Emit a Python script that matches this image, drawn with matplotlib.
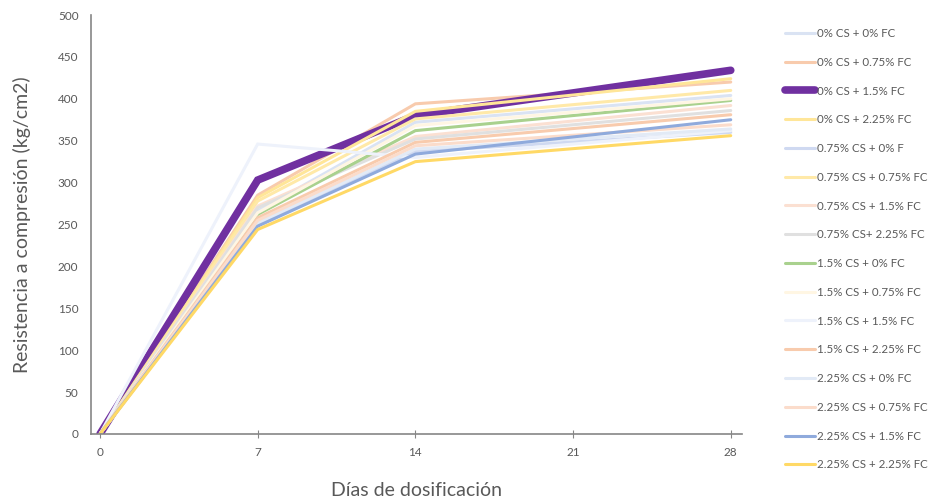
import matplotlib
matplotlib.use("Agg")
import matplotlib.pyplot as plt

plt.rcParams['font.family'] = ['Lato', 'DejaVu Sans']

days = [0, 7, 14, 28]
x_ticks = [0, 7, 14, 21, 28]
y_ticks = [0, 50, 100, 150, 200, 250, 300, 350, 400, 450, 500]

labels = [
    "0% CS + 0% FC", "0% CS + 0.75% FC", "0% CS + 1.5% FC", "0% CS + 2.25% FC",
    "0.75% CS + 0% F", "0.75% CS + 0.75% FC", "0.75% CS + 1.5% FC", "0.75% CS+ 2.25% FC",
    "1.5% CS + 0% FC", "1.5% CS + 0.75% FC", "1.5% CS + 1.5% FC", "1.5% CS + 2.25% FC",
    "2.25% CS + 0% FC", "2.25% CS + 0.75% FC", "2.25% CS + 1.5% FC", "2.25% CS + 2.25% FC",
]

s01 = [0, 266, 372, 404]
s02 = [0, 285, 394, 420]
s03 = [0, 303, 380, 434]
s04 = [0, 282, 385, 424]
s05 = [0, 250, 337, 360]
s06 = [0, 278, 376, 410]
s07 = [0, 272, 355, 392]
s08 = [0, 270, 352, 386]
s09 = [0, 262, 362, 398]
s10 = [0, 264, 368, 400]
s11 = [0, 346, 330, 362]
s12 = [0, 258, 348, 381]
s13 = [0, 252, 340, 364]
s14 = [0, 255, 344, 369]
s15 = [0, 248, 334, 375]
s16 = [0, 244, 325, 356]
series = [s01, s02, s03, s04, s05, s06, s07, s08, s09, s10, s11, s12, s13, s14, s15, s16]

colors = [
    "#dae3f3", "#f8cbad", "#7030a0", "#ffe699",
    "#cfd9f1", "#ffe9a8", "#fbe0d2", "#e0e0e0",
    "#a9d18e", "#fff6e3", "#eef2fb", "#f8cbad",
    "#e2eaf6", "#fbdccb", "#8faadc", "#ffd966",
]
widths = [2.2] * 16
widths[2] = 5.5

fig = plt.figure(figsize=(9.37, 4.99), dpi=100)
ax = fig.add_axes([91/937, 1 - 434/499, (742-91)/937, (434-15)/499])

for vals, lab, col, lw in zip(series, labels, colors, widths):
    ax.plot(days, vals, color=col, lw=lw, label=lab, solid_capstyle='round', solid_joinstyle='miter')

ax.set_xlim(-0.4, 28.5)
ax.set_ylim(0, 500)
ax.set_xticks(x_ticks)
ax.set_yticks(y_ticks)
grey = "#595959"
ax.tick_params(axis='y', length=0, labelsize=8.5, labelcolor=grey, pad=9)
ax.tick_params(axis='x', length=6, direction='inout', color="#868686", labelsize=8.5, labelcolor=grey, pad=6)
for s in ['top', 'right']:
    ax.spines[s].set_visible(False)
for s in ['left', 'bottom']:
    ax.spines[s].set_color("#868686")
    ax.spines[s].set_linewidth(1.2)

ax.set_ylabel("Resistencia a compresión (kg/cm2)", fontsize=14, color=grey, labelpad=19)
ax.set_xlabel("Días de dosificación", fontsize=14, color=grey, labelpad=18)

leg = fig.legend(loc='upper left', bbox_to_anchor=(785/937, 1 - 28/499), bbox_transform=fig.transFigure,
                 frameon=False, fontsize=8.3, labelspacing=1.54, handlelength=2.6, handletextpad=0.2,
                 borderpad=0, borderaxespad=0)
for t in leg.get_texts():
    t.set_color(grey)

fig.savefig("out.png", dpi=100)
